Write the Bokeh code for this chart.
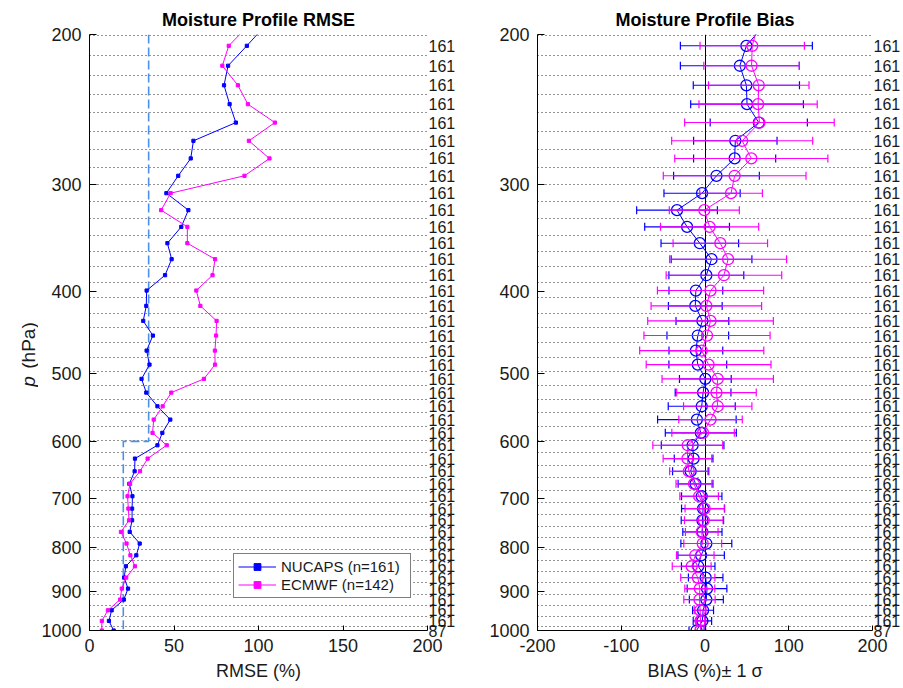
import numpy as np
from bokeh.plotting import figure
from bokeh.models import (Range1d, FixedTicker, PrintfTickFormatter, Legend, LegendItem,
                          LogAxis, AllLabels)
from bokeh.core.properties import value
from bokeh.layouts import row
from bokeh.embed import file_html
from bokeh.resources import INLINE

# ---------------- data ----------------
# layer boundaries (dotted lines), hPa
P_EDGES = [200.7, 211.8, 223.2, 234.9, 247.1, 260.0, 273.1, 286.2, 299.9, 314.3,
           329.0, 344.0, 359.2, 374.6, 390.9, 407.4, 425.0, 441.6, 459.9, 478.1,
           497.3, 516.5, 535.5, 555.1, 575.9, 598.3, 618.4, 640.0, 662.2, 684.6,
           707.8, 731.1, 754.6, 778.8, 803.2, 828.8, 853.7, 879.4, 907.0, 934.3,
           962.4, 990.3]

# layer mid pressures (hPa) where statistics are plotted
P_LEVELS = [195.2, 206.2, 217.6, 229.4, 241.4, 253.7, 266.5, 279.5, 292.9, 307.0,
            321.4, 336.2, 351.4, 366.9, 383.1, 399.3, 416.2, 433.4, 450.9, 469.6,
            487.7, 506.9, 526.0, 545.8, 565.8, 586.4, 606.4, 628.6, 650.5, 673.0,
            695.9, 719.5, 742.6, 766.2, 790.7, 816.2, 840.8, 866.9, 893.0, 919.9,
            946.9, 974.4, 1000.0]

RMSE_NUCAPS = [104.0, 93.1, 82.0, 79.6, 82.9, 86.6, 61.5, 59.9, 52.5, 45.5,
               58.5, 54.3, 46.1, 48.6, 44.7, 33.8, 33.6, 31.8, 37.5, 33.8,
               35.5, 30.8, 33.6, 40.2, 47.8, 43.1, 40.2, 26.9, 26.7, 23.6,
               25.4, 25.2, 25.2, 23.8, 29.7, 27.7, 21.5, 20.5, 22.8, 20.3,
               13.1, 11.5, 14.3]

RMSE_ECMWF = [94.0, 82.4, 78.6, 87.8, 93.7, 109.7, 94.3, 106.5, 91.7, 48.0,
              42.4, 57.9, 57.9, 74.3, 72.8, 63.2, 65.6, 75.2, 74.9, 74.2,
              74.3, 67.7, 48.4, 43.3, 38.0, 37.3, 45.7, 34.4, 29.9, 24.0,
              22.5, 23.0, 23.4, 18.6, 21.9, 24.2, 26.9, 21.7, 19.1, 18.1,
              10.9, 7.3, 7.3]

BIAS_NUCAPS = [70.0, 49.4, 41.6, 49.4, 50.2, 64.2, 36.2, 35.4, 13.7, -3.5,
               -33.4, -21.4, -6.2, 7.8, 1.6, -10.9, -11.6, -3.1, -8.6, -10.9,
               -8.6, 0.4, -2.3, -3.9, -9.7, -5.0, -14.8, -13.6, -17.1, -11.3,
               -3.9, -2.3, -3.1, -3.1, 1.6, -4.6, -8.1, 0.8, 2.4, 1.6,
               -2.3, -3.1, -10.1]
SD_NUCAPS = [80.0, 78.8, 71.0, 63.4, 67.3, 58.0, 49.8, 49.0, 51.2, 45.5,
             48.2, 50.6, 46.3, 48.2, 44.7, 32.1, 32.1, 31.5, 36.8, 32.1,
             34.5, 30.9, 33.3, 40.0, 46.9, 42.4, 37.4, 23.1, 21.6, 20.8,
             24.1, 25.7, 25.3, 23.4, 30.4, 27.7, 20.0, 20.6, 23.7, 20.3,
             12.5, 11.0, 9.0]

BIAS_ECMWF = [63.0, 56.4, 55.6, 64.2, 63.4, 65.0, 44.4, 55.3, 35.4, 31.1,
              -0.8, 5.5, 18.3, 27.6, 22.6, 6.6, 1.6, 6.6, 2.4, -3.9,
              4.3, 15.2, 13.7, 15.2, 6.6, -2.3, -20.6, -21.0, -19.4, -13.2,
              -7.0, -0.4, -1.5, -3.9, -2.7, -11.6, -15.9, -8.6, -6.2, -6.6,
              -5.8, -5.4, -5.4]
SD_ECMWF = [65.0, 62.3, 57.0, 60.0, 70.6, 89.3, 84.2, 91.4, 85.2, 37.4,
            41.8, 58.6, 56.4, 69.8, 69.0, 63.4, 66.0, 75.0, 75.3, 74.1,
            74.5, 66.5, 47.5, 40.8, 37.9, 37.3, 41.7, 29.0, 22.8, 21.4,
            23.0, 23.4, 23.0, 19.5, 22.6, 22.4, 23.2, 20.4, 17.9, 18.7,
            7.0, 5.0, 6.0]

# sample counts per layer (layers inside the plotted range, top to bottom)
N_COUNTS = [161] * 41 + [87]

# requirement (dashed light-blue step line)
REQ_X = [35, 35, 20, 20]
REQ_P = [200, 600, 600, 1000]

Y_TICKS = [200, 300, 400, 500, 600, 700, 800, 900, 1000]
X_TICKS_RMSE = [0, 50, 100, 150, 200]
X_TICKS_BIAS = [-200, -100, 0, 100, 200]

LEGEND_LABELS = ["NUCAPS (n=161)", "ECMWF (n=142)"]

# ---------------- style / layout ----------------
FONT = "Liberation Sans"
BLUE = "#0000FF"
MAG = "#FF00FF"
REQ = "#4D90E8"
GRID = "#2a2a2a"
TXT = "#1a1a1a"
H = 686
TOP = 34          # frame top (px)
BOTTOM = 56       # space under the frame (px)


def clean(p):
    p.grid.visible = False
    p.outline_line_color = None
    p.background_fill_color = "white"
    p.border_fill_color = "white"


def make_fig(title, width, xr, xticks, left, right, xlabel):
    p = figure(width=width, height=H, y_axis_type="log",
               x_range=Range1d(*xr), y_range=Range1d(1000, 200),
               output_backend="svg", toolbar_location=None,
               min_border_left=left, min_border_right=right,
               min_border_top=TOP, min_border_bottom=BOTTOM, title=title)
    p.title.align = "center"
    p.title.text_font = FONT
    p.title.text_font_size = "18px"
    p.title.text_font_style = "bold"
    p.title.text_color = "black"
    p.title.standoff = 9
    clean(p)

    ya = p.yaxis[0]
    ya.ticker = FixedTicker(ticks=Y_TICKS)
    ya.formatter = PrintfTickFormatter(format="%d")
    ya.major_tick_in = 7
    ya.major_tick_out = 0
    ya.minor_tick_in = 0
    ya.minor_tick_out = 0
    ya.major_label_standoff = 8

    xa = p.xaxis[0]
    xa.ticker = FixedTicker(ticks=xticks)
    xa.formatter = PrintfTickFormatter(format="%d")
    xa.major_tick_in = 5
    xa.major_tick_out = 0
    xa.minor_tick_in = 0
    xa.minor_tick_out = 0
    xa.major_label_standoff = 8
    xa.axis_label = xlabel
    xa.axis_label_standoff = 6

    for ax in (xa, ya):
        ax.axis_line_color = "black"
        ax.major_tick_line_color = "black"
        ax.major_label_text_font = FONT
        ax.major_label_text_font_size = "18px"
        ax.major_label_text_color = TXT
        ax.axis_label_text_font = FONT
        ax.axis_label_text_font_size = "18px"
        ax.axis_label_text_font_style = "normal"
        ax.axis_label_text_color = TXT

    p.hspan(y=P_EDGES, line_color=GRID, line_dash="1 3", line_width=1)

    # per-layer sample counts, written at the right of the panel
    counts = LogAxis(ticker=FixedTicker(ticks=P_LEVELS[1:]),
                     major_label_overrides={lv: str(n) for lv, n in zip(P_LEVELS[1:], N_COUNTS)},
                     major_label_policy=AllLabels(),
                     axis_line_color=None, major_tick_line_color=None,
                     minor_tick_line_color=None,
                     major_tick_in=0, major_tick_out=0, minor_tick_in=0, minor_tick_out=0,
                     major_label_standoff=1,
                     major_label_text_font=FONT, major_label_text_font_size="16px",
                     major_label_text_color=TXT)
    p.add_layout(counts, "right")
    return p


# ---------------- y-axis label strip ----------------
ylab = figure(width=38, height=H, x_range=Range1d(0, 38), y_range=Range1d(H - BOTTOM, TOP),
              output_backend="svg", toolbar_location=None,
              x_axis_location=None, y_axis_location=None,
              min_border_left=0, min_border_right=0,
              min_border_top=TOP, min_border_bottom=BOTTOM)
clean(ylab)
ylab.text(x=[28], y=[381], text=["p"], angle=np.pi / 2,
          text_font=value(FONT), text_font_size="19px", text_font_style="italic",
          text_color=TXT, text_align="center", text_baseline="middle")
ylab.text(x=[28], y=[345], text=["(hPa)"], angle=np.pi / 2,
          text_font=value(FONT), text_font_size="19px",
          text_color=TXT, text_align="center", text_baseline="middle")

# ---------------- RMSE panel ----------------
p1 = make_fig("Moisture Profile RMSE", 420, (0, 200), X_TICKS_RMSE, 50, 28, "RMSE (%)")
p1.line(REQ_X, REQ_P, line_color=REQ, line_dash="9 4", line_width=1.6)
lb = p1.line(RMSE_NUCAPS, P_LEVELS, line_color=BLUE, line_width=1)
sb = p1.scatter(RMSE_NUCAPS, P_LEVELS, marker="square", size=3.2, color=BLUE)
lm = p1.line(RMSE_ECMWF, P_LEVELS, line_color=MAG, line_width=1)
sm = p1.scatter(RMSE_ECMWF, P_LEVELS, marker="square", size=3.2, color=MAG)

legend = Legend(items=[LegendItem(label=LEGEND_LABELS[0], renderers=[lb, sb]),
                       LegendItem(label=LEGEND_LABELS[1], renderers=[lm, sm])],
                location=(144, 32), glyph_width=38, glyph_height=17,
                label_width=125, label_height=17,
                label_text_font=FONT, label_text_font_size="15px",
                label_text_color=TXT,
                label_standoff=5, padding=4, spacing=1, margin=0,
                border_line_color="black", border_line_width=1,
                background_fill_alpha=1.0)
p1.add_layout(legend)

# ---------------- Bias panel ----------------
p2 = make_fig("Moisture Profile Bias", 445, (-200, 200), X_TICKS_BIAS, 79, 28,
              "BIAS (%)\u00b1 1 \u03c3")
p2.vspan(x=[0], line_color="black", line_width=1)


def bias_series(p, bias, sd, color):
    b = np.array(bias)
    s = np.array(sd)
    lo = b - s
    hi = b + s
    p.segment(x0=lo, x1=hi, y0=P_LEVELS, y1=P_LEVELS, line_color=color, line_width=1.1)
    p.scatter(np.concatenate([lo, hi]), P_LEVELS + P_LEVELS, marker="dash",
              angle=np.pi / 2, size=8, line_color=color, line_width=1.2)
    p.line(bias, P_LEVELS, line_color=color, line_width=1)
    p.scatter(bias, P_LEVELS, marker="circle", size=11, fill_color=None,
              line_color=color, line_width=1.3)


bias_series(p2, BIAS_NUCAPS, SD_NUCAPS, BLUE)
bias_series(p2, BIAS_ECMWF, SD_ECMWF, MAG)

layout = row(ylab, p1, p2)
open("out.html", "w").write(file_html(layout, INLINE))
